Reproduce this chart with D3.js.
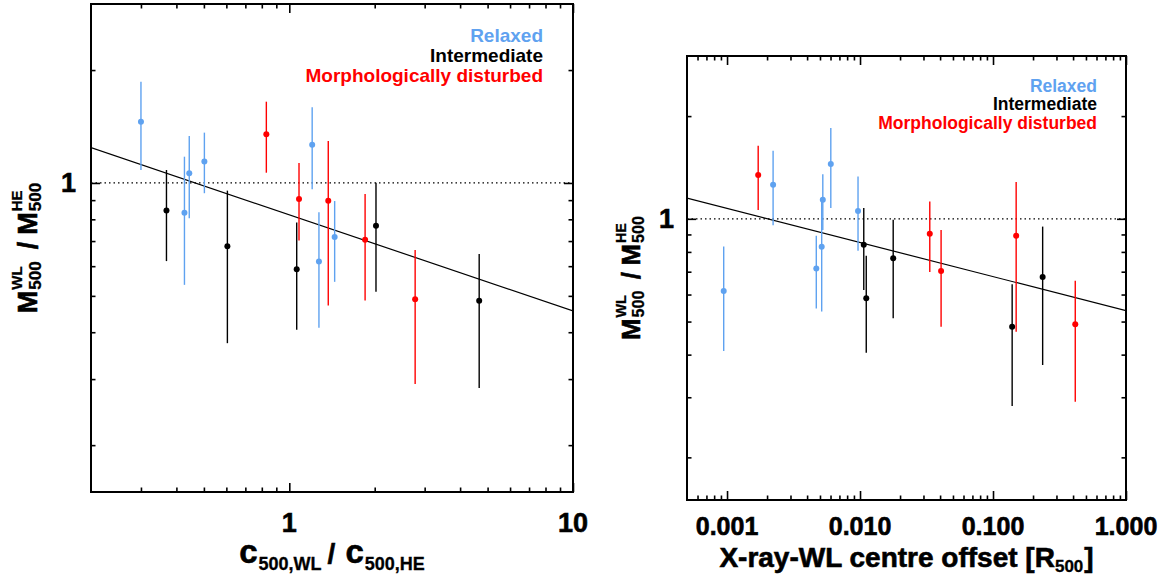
<!DOCTYPE html>
<html>
<head>
<meta charset="utf-8">
<script src="https://cdn.jsdelivr.net/npm/d3@7"></script>
<style>
  html, body { margin: 0; padding: 0; background: #fff; }
  svg { display: block; }
</style>
</head>
<body>
<svg id="chart" width="1169" height="581"></svg>
<script>
// ---------------- DATA ----------------
// Left panel: concentration ratio vs mass ratio
const cRatioRelaxed      = [0.300, 0.427, 0.444, 0.502, 1.204, 1.272, 1.445];
const massRatioRelaxedL  = [1.457, 0.833, 1.061, 1.140, 1.265, 0.617, 0.718];
const lowRelaxedL        = [1.083, 0.535, 0.805, 0.939, 0.962, 0.411, 0.545];
const highRelaxedL       = [1.862, 1.175, 1.335, 1.362, 1.592, 0.835, 0.895];

const cRatioIntermediate     = [0.369, 0.605, 1.062, 2.021, 4.670];
const massRatioIntermediateL = [0.844, 0.678, 0.589, 0.769, 0.485];
const lowIntermediateL       = [0.619, 0.374, 0.406, 0.513, 0.284];
const highIntermediateL      = [1.083, 0.954, 0.784, 1.002, 0.647];

const cRatioDisturbed     = [0.830, 1.082, 1.372, 1.850, 2.777];
const massRatioDisturbedL = [1.349, 0.906, 0.897, 0.706, 0.490];
const lowDisturbedL       = [1.065, 0.702, 0.471, 0.486, 0.291];
const highDisturbedL      = [1.647, 1.131, 1.294, 0.935, 0.663];

const fitLeftX = [0.2, 10];
const fitLeftY = [1.242, 0.456];

// Right panel: X-ray - WL centre offset vs mass ratio
const offsetRelaxed      = [0.000944, 0.00222, 0.00469, 0.00525, 0.00515, 0.00603, 0.00966];
const massRatioRelaxedR  = [0.614, 1.258, 0.715, 1.137, 0.828, 1.447, 1.055];
const lowRelaxedR        = [0.410, 0.958, 0.546, 0.928, 0.535, 1.075, 0.806];
const highRelaxedR       = [0.829, 1.582, 0.892, 1.352, 1.150, 1.845, 1.331];

const offsetIntermediate     = [0.01067, 0.01114, 0.01776, 0.1393, 0.2362];
const massRatioIntermediateR = [0.839, 0.585, 0.767, 0.483, 0.675];
const lowIntermediateR       = [0.619, 0.405, 0.511, 0.283, 0.373];
const highIntermediateR      = [1.075, 0.779, 0.993, 0.643, 0.949];

const offsetDisturbed     = [0.001715, 0.03346, 0.0407, 0.1493, 0.4154];
const massRatioDisturbedR = [1.343, 0.904, 0.703, 0.892, 0.491];
const lowDisturbedR       = [1.061, 0.698, 0.483, 0.467, 0.291];
const highDisturbedR      = [1.637, 1.124, 0.928, 1.281, 0.659];

const fitRightX = [0.0005, 1];
const fitRightY = [1.15, 0.538];

// Axes / ticks
const yDomain = [0.15, 3];
const yMajorTicks = [1];
const yMinorTicks = [0.2, 0.3, 0.4, 0.5, 0.6, 0.7, 0.8, 0.9, 2];
const yTickLabels = ["1"];

const xDomainLeft = [0.2, 10];
const xMajorLeft = [1, 10];
const xMinorLeft = [0.3, 0.4, 0.5, 0.6, 0.7, 0.8, 0.9, 2, 3, 4, 5, 6, 7, 8, 9];
const xLabelsLeft = ["1", "10"];

const xDomainRight = [0.0005, 1];
const xMajorRight = [0.001, 0.01, 0.1, 1];
const xMinorRight = [0.0006, 0.0007, 0.0008, 0.0009,
  0.002, 0.003, 0.004, 0.005, 0.006, 0.007, 0.008, 0.009,
  0.02, 0.03, 0.04, 0.05, 0.06, 0.07, 0.08, 0.09,
  0.2, 0.3, 0.4, 0.5, 0.6, 0.7, 0.8, 0.9];
const xLabelsRight = ["0.001", "0.010", "0.100", "1.000"];

const legendLabels = ["Relaxed", "Intermediate", "Morphologically disturbed"];
const seriesColors = ["#5fa2f0", "#000000", "#ff0000"];

// ---------------- DRAWING ----------------
const FONT = "'Liberation Sans', Arial, Helvetica, sans-serif";
const svg = d3.select("#chart");

function richText(parent, pieces, color) {
  const g = parent.append("g");
  let end = 0, lastStart = 0;
  pieces.forEach(p => {
    const t = g.append("text")
      .attr("font-family", FONT).attr("font-weight", "bold")
      .attr("font-size", p.size).attr("fill", color || "#000")
      .attr("stroke", color || "#000").attr("stroke-width", p.size > 20 ? 0.6 : 0.3)
      .text(p.t);
    const w = t.node().getComputedTextLength();
    const start = p.stack ? lastStart : end + (p.gap || 0);
    t.attr("x", start).attr("y", p.dy || 0);
    lastStart = start;
    end = Math.max(end, start + w);
  });
  g.attr("transform", `translate(${-end / 2},0)`);
  return g;
}

function drawPanel(cfg) {
  const x = d3.scaleLog().domain(cfg.xDomain).range([cfg.x0, cfg.x1]);
  const y = d3.scaleLog().domain(yDomain).range([cfg.y1, cfg.y0]);
  const g = svg.append("g");

  const clipId = "clip" + cfg.id;
  svg.append("clipPath").attr("id", clipId).append("rect")
    .attr("x", cfg.x0).attr("y", cfg.y0)
    .attr("width", cfg.x1 - cfg.x0).attr("height", cfg.y1 - cfg.y0);

  const plot = g.append("g").attr("clip-path", `url(#${clipId})`);

  // dotted unity line
  plot.append("line")
    .attr("x1", cfg.x0).attr("x2", cfg.x1)
    .attr("y1", y(1)).attr("y2", y(1))
    .attr("stroke", "#000").attr("stroke-width", 1.3)
    .attr("stroke-dasharray", "1.5,3");

  // fit line
  const line = d3.line().x(d => x(d[0])).y(d => y(d[1]));
  plot.append("path")
    .datum(cfg.fitX.map((v, i) => [v, cfg.fitY[i]]))
    .attr("d", line).attr("fill", "none")
    .attr("stroke", "#000").attr("stroke-width", 1.2);

  // series
  cfg.series.forEach((s, si) => {
    const pts = s.x.map((v, i) => ({ x: v, y: s.y[i], lo: s.lo[i], hi: s.hi[i] }));
    const sg = plot.append("g");
    sg.selectAll("line.err").data(pts).enter().append("line")
      .attr("class", "err")
      .attr("x1", d => x(d.x)).attr("x2", d => x(d.x))
      .attr("y1", d => y(d.lo)).attr("y2", d => y(d.hi))
      .attr("stroke", seriesColors[si]).attr("stroke-width", 1.4);
    sg.selectAll("circle").data(pts).enter().append("circle")
      .attr("cx", d => x(d.x)).attr("cy", d => y(d.y)).attr("r", 3)
      .attr("fill", seriesColors[si]);
  });

  // ticks via d3 axes (inward)
  function tickAxis(axisFn, scale, values, size, transform) {
    const a = g.append("g").attr("transform", transform)
      .call(axisFn(scale).tickValues(values).tickSize(-size).tickFormat(""));
    a.select(".domain").remove();
    a.selectAll(".tick line").attr("stroke", "#000").attr("stroke-width", 1.6);
  }
  const MAJ = 9, MIN = 4.5;
  tickAxis(d3.axisBottom, x, cfg.xMajor, MAJ, `translate(0,${cfg.y1})`);
  tickAxis(d3.axisBottom, x, cfg.xMinor, MIN, `translate(0,${cfg.y1})`);
  tickAxis(d3.axisTop, x, cfg.xMajor, MAJ, `translate(0,${cfg.y0})`);
  tickAxis(d3.axisTop, x, cfg.xMinor, MIN, `translate(0,${cfg.y0})`);
  tickAxis(d3.axisLeft, y, yMajorTicks, MAJ, `translate(${cfg.x0},0)`);
  tickAxis(d3.axisLeft, y, yMinorTicks, MIN, `translate(${cfg.x0},0)`);
  tickAxis(d3.axisRight, y, yMajorTicks, MAJ, `translate(${cfg.x1},0)`);
  tickAxis(d3.axisRight, y, yMinorTicks, MIN, `translate(${cfg.x1},0)`);

  // frame
  g.append("rect")
    .attr("x", cfg.x0).attr("y", cfg.y0)
    .attr("width", cfg.x1 - cfg.x0).attr("height", cfg.y1 - cfg.y0)
    .attr("fill", "none").attr("stroke", "#000").attr("stroke-width", 2);

  // tick labels
  g.selectAll("text.xl").data(cfg.xMajor).enter().append("text")
    .attr("class", "xl")
    .attr("x", d => x(d)).attr("y", cfg.xLabelY)
    .attr("text-anchor", "middle")
    .attr("font-family", FONT).attr("font-weight", "bold")
    .attr("font-size", cfg.xLabelSize)
    .attr("stroke", "#000").attr("stroke-width", 0.6)
    .text((d, i) => cfg.xLabels[i]);
  g.selectAll("text.yl").data(yMajorTicks).enter().append("text")
    .attr("class", "yl")
    .attr("x", cfg.x0 - cfg.yLabelGap).attr("y", d => y(d) + 9.5)
    .attr("text-anchor", "end")
    .attr("font-family", FONT).attr("font-weight", "bold")
    .attr("font-size", 27)
    .attr("stroke", "#000").attr("stroke-width", 0.6)
    .text((d, i) => yTickLabels[i]);

  // y-axis title
  const yt = g.append("g")
    .attr("transform", `translate(${cfg.yTitleX},${(cfg.y0 + cfg.y1) / 2}) rotate(-90)`);
  const s = cfg.yTitleScale;
  richText(yt, [
    { t: "M", size: 27 * s },
    { t: "WL", size: 15 * s, dy: -15 * s, gap: 1 },
    { t: "500", size: 17 * s, dy: 4 * s, stack: true },
    { t: "/", size: 27 * s, gap: 12 * s },
    { t: "M", size: 27 * s, gap: 7 * s },
    { t: "HE", size: 15 * s, dy: -15 * s, gap: 1 },
    { t: "500", size: 17 * s, dy: 4 * s, stack: true }
  ]);

  // x-axis title
  const xt = g.append("g")
    .attr("transform", `translate(${(cfg.x0 + cfg.x1) / 2},${cfg.xTitleY})`);
  richText(xt, cfg.xTitlePieces);

  // legend
  const lg = g.append("g");
  legendLabels.forEach((lab, i) => {
    lg.append("text")
      .attr("x", cfg.legendX).attr("y", cfg.legendY + i * cfg.legendStep)
      .attr("text-anchor", "end")
      .attr("font-family", FONT).attr("font-weight", "bold")
      .attr("font-size", cfg.legendSize)
      .attr("fill", seriesColors[i])
      .text(lab);
  });
}

drawPanel({
  id: "L", x0: 91, x1: 573, y0: 4, y1: 492,
  xDomain: xDomainLeft, xMajor: xMajorLeft, xMinor: xMinorLeft, xLabels: xLabelsLeft,
  xLabelY: 532, xLabelSize: 27, yLabelGap: 15,
  fitX: fitLeftX, fitY: fitLeftY,
  series: [
    { x: cRatioRelaxed, y: massRatioRelaxedL, lo: lowRelaxedL, hi: highRelaxedL },
    { x: cRatioIntermediate, y: massRatioIntermediateL, lo: lowIntermediateL, hi: highIntermediateL },
    { x: cRatioDisturbed, y: massRatioDisturbedL, lo: lowDisturbedL, hi: highDisturbedL }
  ],
  yTitleX: 37, yTitleScale: 1,
  xTitleY: 563,
  xTitlePieces: [
    { t: "c", size: 33 },
    { t: "500,WL", size: 18, dy: 7, gap: 1 },
    { t: "/", size: 28, gap: 6 },
    { t: "c", size: 33, gap: 10 },
    { t: "500,HE", size: 18, dy: 7, gap: 1 }
  ],
  legendX: 543, legendY: 42, legendStep: 20, legendSize: 19
});

drawPanel({
  id: "R", x0: 687, x1: 1126, y0: 56, y1: 500,
  xDomain: xDomainRight, xMajor: xMajorRight, xMinor: xMinorRight, xLabels: xLabelsRight,
  xLabelY: 535, xLabelSize: 25, yLabelGap: 13,
  fitX: fitRightX, fitY: fitRightY,
  series: [
    { x: offsetRelaxed, y: massRatioRelaxedR, lo: lowRelaxedR, hi: highRelaxedR },
    { x: offsetIntermediate, y: massRatioIntermediateR, lo: lowIntermediateR, hi: highIntermediateR },
    { x: offsetDisturbed, y: massRatioDisturbedR, lo: lowDisturbedR, hi: highDisturbedR }
  ],
  yTitleX: 640, yTitleScale: 0.95,
  xTitleY: 567,
  xTitlePieces: [
    { t: "X-ray-WL centre offset [R", size: 28 },
    { t: "500", size: 17, dy: 5, gap: 0 },
    { t: "]", size: 28, gap: 1 }
  ],
  legendX: 1097, legendY: 92, legendStep: 18.3, legendSize: 17.5
});
</script>
</body>
</html>
